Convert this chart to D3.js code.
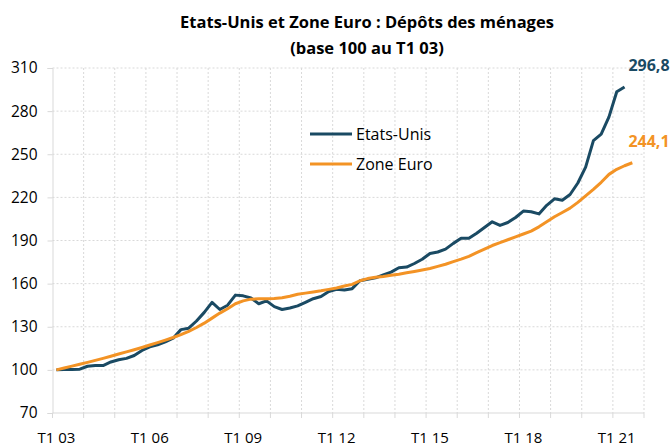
<!DOCTYPE html>
<html lang="fr">
<head>
	<meta charset="UTF-8">
	<title>Dépôts des ménages</title>
	<script src="https://cdn.jsdelivr.net/npm/d3@7"></script>
	<style>
		body { margin: 0; background: #fff; }
		text { font-family: "Open Sans", sans-serif; fill: #000; }
	</style>
</head>
<body>
	<div id="container"></div>
	<script>
		var width = 672;
		var height = 446;

		// trimestres T1 03 .. T4 21 (l'axe va jusqu'a fin 2021)
		var years = ["03","04","05","06","07","08","09","10","11","12","13","14","15","16","17","18","19","20","21"];
		var quarters = [];
		years.forEach(function(y) {
			for (var q = 1; q <= 4; q++) quarters.push("T" + q + " " + y);
		});
		var tickLabels = ["T1 03", "T1 06", "T1 09", "T1 12", "T1 15", "T1 18", "T1 21"];
		var yTicks = [70, 100, 130, 160, 190, 220, 250, 280, 310];

		var etatsUnis = [
			100, 100.2, 100.3, 100.5, 102.5, 103, 103, 105.5, 107, 108,
			110, 113.5, 116, 117.5, 119.5, 122, 128, 129, 134, 140,
			147, 142, 145, 152, 151.5, 150, 146, 148, 144, 142,
			143, 144.5, 147, 149.5, 151, 154.5, 156, 155.5, 156.5, 162,
			163, 164, 166, 168, 171, 171.5, 174, 177, 181, 182,
			184, 188, 191.5, 191.5, 195, 199, 203, 200.5, 202.5, 206,
			210.5, 210, 208.5, 214.5, 219, 218, 222, 230, 241, 259.5,
			264, 276, 293.5, 296.8
		];
		var zoneEuro = [
			100, 101.3, 102.6, 103.9, 105.2, 106.6, 108, 109.5, 111, 112.5,
			114, 115.6, 117.3, 119, 120.7, 122.5, 124.5, 126.8, 129.5, 132.5,
			136, 139.5, 142.5, 146, 148, 149.2, 149.4, 149.4, 149.6, 150.2,
			151.2, 152.6, 153.4, 154.2, 155, 156, 157, 158.3, 159.5, 162,
			163.5, 164.5, 165, 165.8, 166.5, 167.5, 168.5, 169.5, 170.5, 172,
			173.5, 175.3, 177, 179, 181.5, 184, 186.5, 188.5, 190.5, 192.5,
			194.5, 196.5, 199.5, 203, 206.5, 209.5, 212.5, 216.5, 221, 225.5,
			230.5, 236, 239.5, 242, 244.1
		];

		var series = [
			{name: "Etats-Unis", values: etatsUnis, color: "#1a4a63", label: "296,8"},
			{name: "Zone Euro", values: zoneEuro, color: "#f39325", label: "244,1"}
		];

		var svg = d3.select("#container").append("svg")
				.attr("width", width)
				.attr("height", height);

		var x = d3.scaleBand()
				.domain(quarters)
				.range([52.5, 644])
				.padding(0);
		var y = d3.scaleLinear()
				.domain([70, 310])
				.range([413, 68]);

		var cx = function(i) { return x(quarters[i]) + x.bandwidth() / 2; };

		// grille
		var yearStarts = quarters.filter(function(d, i) { return i % 4 == 0; }).concat(["end"]);
		var xAt = function(d) { return d == "end" ? 644 : x(d); };

		svg.selectAll(".hgrid").data(yTicks.slice(1))
			.enter().append("line")
				.attr("x1", 52.5).attr("x2", 644)
				.attr("y1", d => y(d)).attr("y2", d => y(d))
				.style("stroke", "#d9d9d9")
				.style("stroke-dasharray", "2,2");

		svg.selectAll(".vgrid").data(yearStarts.slice(1))
			.enter().append("line")
				.attr("x1", d => xAt(d)).attr("x2", d => xAt(d))
				.attr("y1", 68).attr("y2", 413)
				.style("stroke", "#d9d9d9")
				.style("stroke-dasharray", "2,2");

		// axes
		var yAxis = svg.append("g")
				.attr("transform", "translate(52.5,0)")
				.call(d3.axisLeft(y).tickValues(yTicks).tickSize(5).tickPadding(10));
		yAxis.select(".domain").attr("stroke", "#d9d9d9");
		yAxis.selectAll(".tick line").attr("stroke", "#d9d9d9");
		yAxis.selectAll(".tick text")
				.style("font-size", "15.5px")
				.attr("fill", "#000")
				.attr("font-family", "Open Sans");

		svg.append("line")
				.attr("x1", 52.5).attr("x2", 644)
				.attr("y1", 413).attr("y2", 413)
				.style("stroke", "#d9d9d9");

		svg.selectAll(".xtick").data(yearStarts)
			.enter().append("line")
				.attr("x1", d => xAt(d)).attr("x2", d => xAt(d))
				.attr("y1", 413).attr("y2", 418)
				.style("stroke", "#d9d9d9");

		svg.selectAll(".xlabel").data(tickLabels)
			.enter().append("text")
				.attr("x", d => x(d) + x.bandwidth() / 2)
				.attr("y", 443)
				.attr("text-anchor", "middle")
				.style("font-size", "15px")
				.text(d => d);

		// courbes
		var line = d3.line()
				.x((d, i) => cx(i))
				.y(d => y(d));

		svg.selectAll(".serie").data(series)
			.enter().append("path")
				.attr("d", d => line(d.values))
				.attr("fill", "none")
				.attr("stroke", d => d.color)
				.attr("stroke-width", 3)
				.attr("stroke-linejoin", "round");

		// dernieres valeurs
		svg.selectAll(".last").data(series)
			.enter().append("text")
				.attr("x", 649)
				.attr("y", d => y(d.values[d.values.length - 1]) - 16)
				.attr("text-anchor", "middle")
				.style("font-size", "16px")
				.style("font-weight", "bold")
				.style("fill", d => d.color)
				.text(d => d.label);

		// legende
		var legend = svg.selectAll(".legend").data(series)
			.enter().append("g")
				.attr("transform", (d, i) => "translate(310," + (134 + i * 30) + ")");
		legend.append("line")
				.attr("x1", 0).attr("x2", 42)
				.attr("y1", 0).attr("y2", 0)
				.attr("stroke", d => d.color)
				.attr("stroke-width", 3);
		legend.append("text")
				.attr("x", 46)
				.attr("y", 5.5)
				.style("font-size", "16px")
				.text(d => d.name);

		// titre
		svg.append("text")
				.attr("x", 367).attr("y", 28)
				.attr("text-anchor", "middle")
				.style("font-size", "16.5px")
				.style("font-weight", "bold")
				.text("Etats-Unis et Zone Euro : Dépôts des ménages");
		svg.append("text")
				.attr("x", 367).attr("y", 54)
				.attr("text-anchor", "middle")
				.style("font-size", "16.5px")
				.style("font-weight", "bold")
				.text("(base 100 au T1 03)");
	</script>
</body>
</html>
